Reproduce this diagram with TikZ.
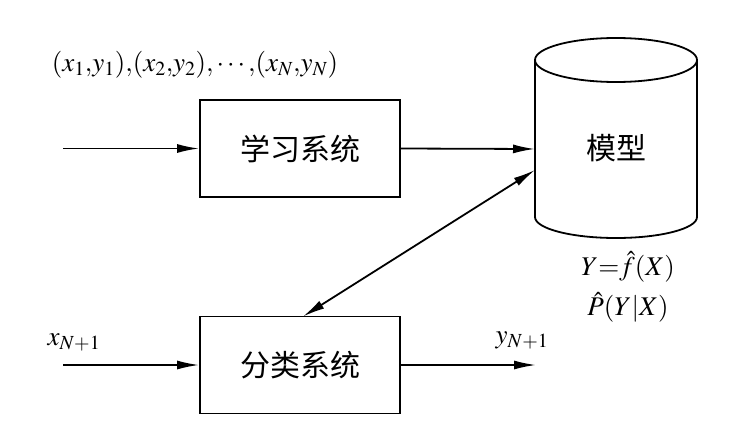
\documentclass[tikz,border=0pt]{standalone}
\usepackage{mathptmx}
\usepackage[no-math]{fontspec}
\setmainfont{Liberation Serif}
\newfontfamily\cjk{Noto Sans CJK SC}
\usetikzlibrary{arrows.meta}
\begin{document}
\begin{tikzpicture}[x=1pt,y=-1pt,
  lw/.style={line width=1.8pt},
  box/.style={draw, lw, minimum width=200pt, minimum height=97pt, inner sep=0pt, font=\cjk\fontsize{30}{30}\selectfont},
  conn/.style={lw, -{Latex[length=22pt,width=9pt]}},
  biconn/.style={lw, {Latex[length=22pt,width=9pt]}-{Latex[length=22pt,width=9pt]}},
  lbl/.style={inner sep=0pt, font=\fontsize{27}{27}\selectfont}]
\useasboundingbox[fill=white] (0,0) rectangle (738,444);
% boxes
\node[box] (learn) at (300,148.5) {学习系统};
\node[box] (cls) at (300,365) {分类系统};
% cylinder (model)
\draw[lw] (535,60) -- (535,217) arc[start angle=180, end angle=0, x radius=81, y radius=21] -- (697,60);
\draw[lw] (616,60) ellipse[x radius=81, y radius=22];
\node[inner sep=0pt, font=\cjk\fontsize{30}{30}\selectfont] (model) at (616,148) {模型};
\coordinate (m1) at (535,149);
\coordinate (m2) at (535,170);
\coordinate (ctop) at (303,316.5);
% inputs/outputs
\coordinate (in1) at (63,148.5);
\coordinate (in2) at (63,365);
\coordinate (out2) at (536,365);
\draw[conn] (in1) -- (learn.west);
\draw[conn] (learn.east) -- (m1);
\draw[biconn] (ctop) -- (m2);
\draw[conn] (in2) -- (cls.west);
\draw[conn] (cls.east) -- (out2);
% labels
\node[lbl] (data) at (195,65) {$(x_1{,}y_1){,}(x_2{,}y_2){,}\cdots{,}(x_N{,}y_N)$};
\node[lbl, align=center, font=\fontsize{27}{40}\selectfont] (fx) at (628,287) {$Y{=}\hat{f}(X)$\\$\hat{P}(Y|X)$};
\node[lbl] (xn) at (74,342) {$x_{N+1}$};
\node[lbl] (yn) at (522,340) {$y_{N+1}$};
\end{tikzpicture}
\end{document}
